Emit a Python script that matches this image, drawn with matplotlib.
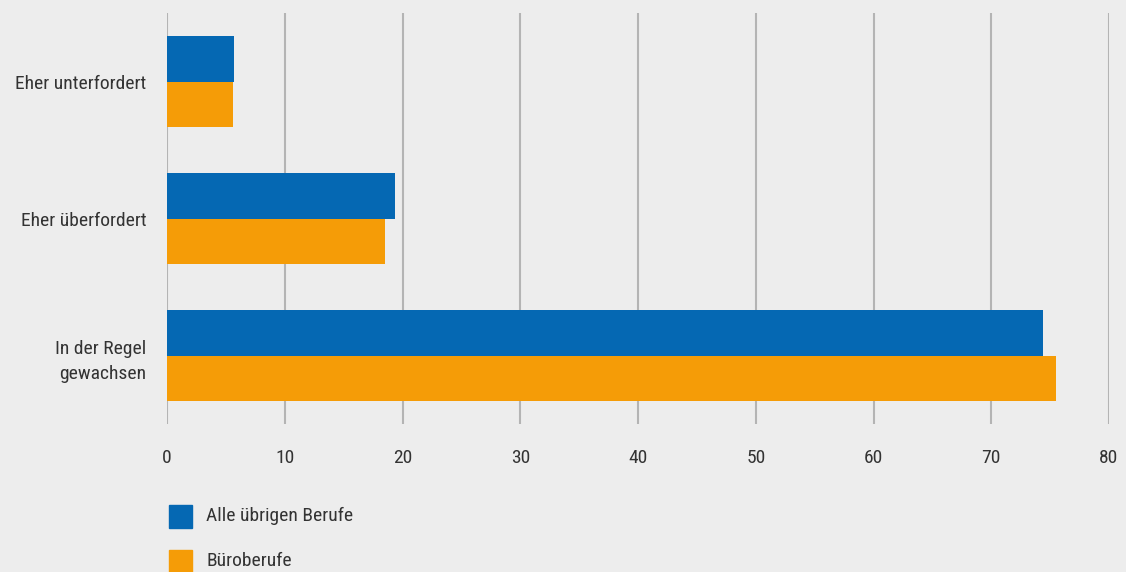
import matplotlib
matplotlib.use("Agg")
import matplotlib.pyplot as plt
from matplotlib.patches import Rectangle
from matplotlib import font_manager
import numpy as np

categories = ["Eher unterfordert", "Eher überfordert", "In der Regel\ngewachsen"]
series_names = ["Alle übrigen Berufe", "Büroberufe"]
values_alle = [5.7, 19.4, 74.4]
values_buero = [5.6, 18.5, 75.5]
x_ticks = [0, 10, 20, 30, 40, 50, 60, 70, 80]

colors = ["#0568b3", "#f59c07"]
bg = "#ededed"
txt = "#333333"

avail = {f.name for f in font_manager.fontManager.ttflist}
fam = [f for f in ["Liberation Sans Narrow", "Roboto Condensed", "Open Sans Condensed", "Noto Sans"] if f in avail] + ["DejaVu Sans"]
plt.rcParams['font.family'] = fam

FS = 14
W, H = 1126, 572
fig = plt.figure(figsize=(W / 100, H / 100), dpi=100, facecolor=bg)
ax = fig.add_axes([167 / W, 1 - 424 / H, (1109 - 167) / W, (424 - 13) / H])
ax.set_facecolor(bg)

y = np.arange(len(categories))
h = 0.33
ax.barh(y - h / 2, values_alle, height=h, color=colors[0], zorder=3)
ax.barh(y + h / 2, values_buero, height=h, color=colors[1], zorder=3)

ax.set_ylim(len(categories) - 0.5, -0.5)
ax.set_xlim(0, 80)
ax.set_xticks(x_ticks)
ax.set_xticklabels([str(v) for v in x_ticks], fontsize=FS, color=txt)
ax.set_yticks(y)
ax.set_yticklabels(categories, fontsize=FS, color=txt, ha="right", linespacing=1.5)
ax.tick_params(axis="both", length=0)
ax.tick_params(axis="x", pad=18)
ax.tick_params(axis="y", pad=15)
ax.grid(axis="x", color="#b4b4b4", linewidth=1.5, zorder=0)
for s in ax.spines.values():
    s.set_visible(False)

# legend
leg_y = [516, 561]
for name, c, yy in zip(series_names, colors, leg_y):
    fig.patches.append(Rectangle((169 / W, 1 - (yy + 11.5) / H), 23 / W, 23 / H,
                                 transform=fig.transFigure, color=c, figure=fig))
    fig.text(206 / W, 1 - yy / H, name, fontsize=FS, color=txt, va="center", ha="left")

fig.savefig("out.png", dpi=100, facecolor=bg)
